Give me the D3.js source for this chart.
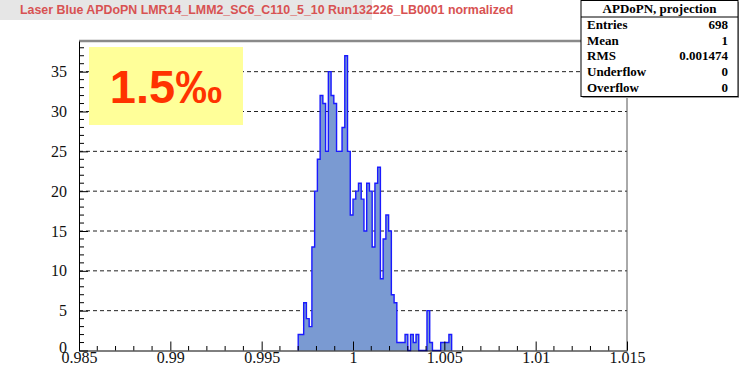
<!DOCTYPE html>
<html>
<head>
<meta charset="utf-8">
<script src="https://cdn.jsdelivr.net/npm/d3@7"></script>
<style>
  html, body { margin: 0; padding: 0; background: #ffffff; }
  svg { display: block; }
  .tick text { font-family: 'Liberation Serif', 'Times New Roman', serif; }
</style>
</head>
<body>
<svg id="chart" width="739" height="371"></svg>
<script>
// Histogram: APDoPN normalized response, 200 bins over [0.985, 1.015]
const xRange = [0.985, 1.015];
const binWidth = 0.00015;
const firstBinLow = 0.997;          // low edge of the first filled bin
const binCounts = [
  2, 2, 6, 4, 3, 13, 20, 24, 32, 31,
  25, 35, 32, 31, 25, 25, 28, 37, 25, 17,
  19, 20, 21, 19, 15, 21, 20, 13, 21, 23,
  9, 14, 17, 15, 7, 6, 1, 1, 1, 2,
  0, 2, 1, 2, 0, 0, 0, 5, 1, 0,
  0, 0, 1, 1, 1, 2
];
const yMax = 38.85;
const xMajorTicks = [0.985, 0.99, 0.995, 1, 1.005, 1.01, 1.015];
const xTickLabels = ["0.985", "0.99", "0.995", "1", "1.005", "1.01", "1.015"];
const yMajorTicks = [0, 5, 10, 15, 20, 25, 30, 35];
const titleText = "Laser Blue APDoPN LMR14_LMM2_SC6_C110_5_10 Run132226_LB0001 normalized";
const statsTitle = "APDoPN, projection";
const statsNames = ["Entries", "Mean", "RMS", "Underflow", "Overflow"];
const statsValues = ["698", "1", "0.001474", "0", "0"];
const badgeText = "1.5\u2030";

const svg = d3.select("#chart");
const frame = { left: 79, right: 627, top: 41, bottom: 350.5 };
const serif = "'Liberation Serif', 'Times New Roman', serif";
const sans = "'Liberation Sans', Arial, Helvetica, sans-serif";

const x = d3.scaleLinear().domain(xRange).range([frame.left, frame.right]);
const y = d3.scaleLinear().domain([0, yMax]).range([frame.bottom, frame.top]);

// dashed horizontal grid
svg.append("g")
  .selectAll("line")
  .data(yMajorTicks.filter(d => d > 0))
  .join("line")
  .attr("x1", frame.left).attr("x2", frame.right)
  .attr("y1", d => y(d)).attr("y2", d => y(d))
  .attr("stroke", "#222")
  .attr("stroke-width", 1)
  .attr("stroke-dasharray", "4,3");

// histogram as a step outline
const bins = binCounts.map((c, i) => ({
  lo: firstBinLow + i * binWidth,
  hi: firstBinLow + (i + 1) * binWidth,
  c
}));
const pts = [[bins[0].lo, 0]];
bins.forEach(b => { pts.push([b.lo, b.c]); pts.push([b.hi, b.c]); });
pts.push([bins[bins.length - 1].hi, 0]);
const step = d3.line().x(d => x(d[0])).y(d => y(d[1]));

svg.append("path")
  .attr("d", step(pts) + "Z")
  .attr("fill", "#7a9ad2")
  .attr("stroke", "none");
svg.append("path")
  .attr("d", step(pts))
  .attr("fill", "none")
  .attr("stroke", "#1a1aff")
  .attr("stroke-width", 1.4);

// frame: grey top edge and thin right edge
svg.append("line")
  .attr("x1", frame.left).attr("x2", frame.right + 1)
  .attr("y1", frame.top).attr("y2", frame.top)
  .attr("stroke", "#8a8a8a").attr("stroke-width", 2.5);
svg.append("line")
  .attr("x1", frame.right).attr("x2", frame.right)
  .attr("y1", frame.top).attr("y2", frame.bottom)
  .attr("stroke", "#555").attr("stroke-width", 1);

// y axis with inward ticks
const yAxis = d3.axisLeft(y)
  .tickValues(yMajorTicks)
  .tickSizeInner(-9)
  .tickSizeOuter(0)
  .tickPadding(12);
const gy = svg.append("g")
  .attr("transform", `translate(${frame.left},0)`)
  .call(yAxis)
  .attr("font-family", serif)
  .attr("font-size", 16);
gy.selectAll("text")
  .attr("fill", "#111")
  .attr("dy", d => d === 0 ? "0.1em" : "0.32em");
gy.select(".domain").attr("stroke", "#000");
const yMinor = d3.range(0, 39, 1);
gy.append("g").selectAll("line")
  .data(yMinor.filter(v => v % 5 !== 0))
  .join("line")
  .attr("x1", 0).attr("x2", 5)
  .attr("y1", d => y(d)).attr("y2", d => y(d))
  .attr("stroke", "#000");

// x axis with inward ticks
const xAxis = d3.axisBottom(x)
  .tickValues(xMajorTicks)
  .tickFormat((d, i) => xTickLabels[i])
  .tickSizeInner(-9)
  .tickSizeOuter(0)
  .tickPadding(1);
const gx = svg.append("g")
  .attr("transform", `translate(0,${frame.bottom})`)
  .call(xAxis)
  .attr("font-family", serif)
  .attr("font-size", 16);
gx.selectAll("text")
  .attr("fill", "#111");
gx.select(".domain").attr("stroke", "#000");
const xMinor = d3.range(0, 31).map(i => 0.985 + i * 0.001);
gx.append("g").selectAll("line")
  .data(xMinor.filter((v, i) => i % 5 !== 0))
  .join("line")
  .attr("x1", d => x(d)).attr("x2", d => x(d))
  .attr("y1", 0).attr("y2", -4.5)
  .attr("stroke", "#000");

// highlighted value badge
svg.append("rect")
  .attr("x", 89).attr("y", 47).attr("width", 154).attr("height", 78)
  .attr("fill", "#ffff99");
svg.append("text")
  .attr("x", 166).attr("y", 103)
  .attr("text-anchor", "middle")
  .attr("font-family", sans)
  .attr("font-weight", "bold")
  .attr("font-size", 47)
  .attr("fill", "#ff3300")
  .text(badgeText);

// title band
svg.append("rect")
  .attr("x", 0).attr("y", 0).attr("width", 372).attr("height", 20)
  .attr("fill", "#e6e6e6");
svg.append("text")
  .attr("x", 20).attr("y", 14)
  .attr("font-family", sans)
  .attr("font-weight", "bold")
  .attr("font-size", 12.4)
  .attr("fill", "#d85252")
  .text(titleText);

// statistics box
const sb = { x: 581, y: 0.5, w: 157, h: 96 };
const gs = svg.append("g");
gs.append("rect")
  .attr("x", sb.x + 1.5).attr("y", sb.y + 1.5).attr("width", sb.w).attr("height", sb.h)
  .attr("fill", "#999");
gs.append("rect")
  .attr("x", sb.x).attr("y", sb.y).attr("width", sb.w).attr("height", sb.h)
  .attr("fill", "#fff").attr("stroke", "#000").attr("stroke-width", 1);
gs.append("line")
  .attr("x1", sb.x).attr("x2", sb.x + sb.w)
  .attr("y1", 17).attr("y2", 17)
  .attr("stroke", "#000");
gs.append("text")
  .attr("x", sb.x + sb.w / 2).attr("y", 13)
  .attr("text-anchor", "middle")
  .attr("font-family", serif).attr("font-weight", "bold").attr("font-size", 13)
  .text(statsTitle);
statsNames.forEach((name, i) => {
  const by = 29 + i * 15.7;
  gs.append("text")
    .attr("x", sb.x + 6).attr("y", by)
    .attr("font-family", serif).attr("font-weight", "bold").attr("font-size", 13)
    .text(name);
  gs.append("text")
    .attr("x", sb.x + sb.w - 10).attr("y", by)
    .attr("text-anchor", "end")
    .attr("font-family", serif).attr("font-weight", "bold").attr("font-size", 13)
    .text(statsValues[i]);
});
</script>
</body>
</html>
